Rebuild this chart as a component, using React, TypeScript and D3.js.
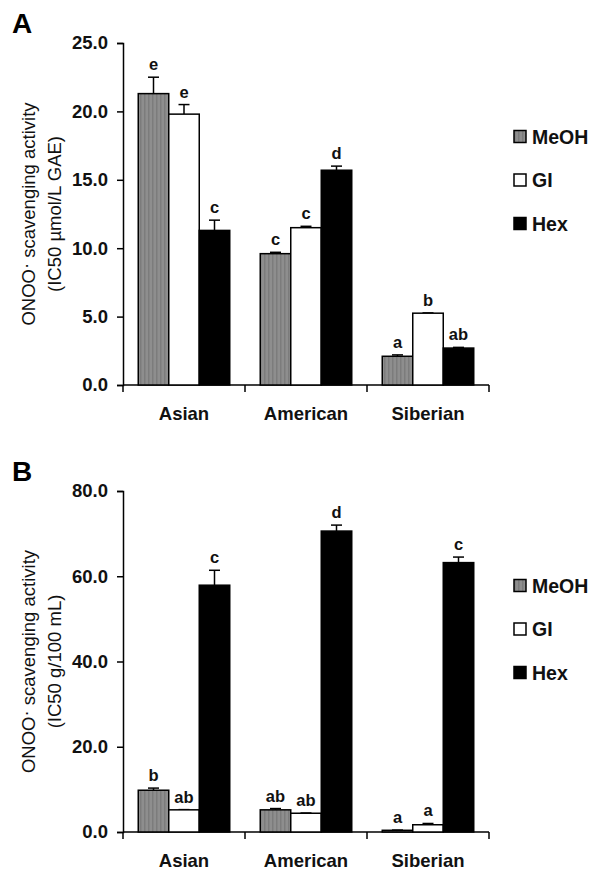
import { useEffect, useRef } from "react"
import * as d3 from "d3"

const categories = ["Asian", "American", "Siberian"]
const series = ["MeOH", "GI", "Hex"]

// panel A : IC50 umol/L GAE
const meohA = [21.3, 9.6, 2.1]
const glA = [19.8, 11.5, 5.25]
const hexA = [11.3, 15.7, 2.7]
const meohErrA = [1.2, 0.1, 0.1]
const glErrA = [0.7, 0.1, 0.02]
const hexErrA = [0.75, 0.3, 0.05]
const meohLetA = ["e", "c", "a"]
const glLetA = ["e", "c", "b"]
const hexLetA = ["c", "d", "ab"]
const ticksA = [0, 5, 10, 15, 20, 25]

// panel B : IC50 g/100 mL
const meohB = [9.8, 5.2, 0.4]
const glB = [5.2, 4.4, 1.7]
const hexB = [57.9, 70.6, 63.2]
const meohErrB = [0.5, 0.3, 0.05]
const glErrB = [0.05, 0.05, 0.3]
const hexErrB = [3.5, 1.4, 1.3]
const meohLetB = ["b", "ab", "a"]
const glLetB = ["ab", "ab", "a"]
const hexLetB = ["c", "d", "c"]
const ticksB = [0, 20, 40, 60, 80]

const FONT = "'Liberation Sans', Arial, sans-serif"
const fills = { MeOH: "url(#stripes)", GI: "#ffffff", Hex: "#000000" }

const drawPanel = (svg, opts) => {
    const { top, bottom, max, ticks, vals, errs, lets, label, unit, legendTop } = opts
    const left = 123, right = 489

    const y = d3.scaleLinear().domain([0, max]).range([bottom, top])
    const x = d3.scaleBand().domain(categories).range([left, right])
    const xi = d3.scaleBand().domain(series).range([0, x.bandwidth()]).paddingOuter(0.5)

    const g = svg.append("g").attr("font-family", FONT)

    // panel letter
    g.append("text").attr("x", 12).attr("y", top - 10)
        .attr("font-size", 28).attr("font-weight", "bold").text(label)

    // y axis
    const yAxis = g.append("g").attr("transform", `translate(${left},0)`)
        .call(d3.axisLeft(y).tickValues(ticks).tickSize(6).tickPadding(9).tickFormat(d3.format(".1f")))
    yAxis.select(".domain").attr("stroke-width", 1.5)
    yAxis.selectAll(".tick line").attr("stroke-width", 1.5)
    yAxis.selectAll(".tick text").attr("font-size", 18.5).attr("font-weight", "bold")
        .attr("font-family", FONT).attr("fill", "#111")

    // x axis with ticks at category boundaries
    g.append("line").attr("x1", left).attr("x2", right).attr("y1", bottom).attr("y2", bottom)
        .attr("stroke", "#000").attr("stroke-width", 1.5)
    const edges = categories.map(c => x(c)).concat([right])
    g.selectAll(".xt").data(edges).join("line")
        .attr("x1", d => d).attr("x2", d => d).attr("y1", bottom).attr("y2", bottom + 7)
        .attr("stroke", "#000").attr("stroke-width", 1.5)
    g.selectAll(".xl").data(categories).join("text")
        .attr("x", d => x(d) + x.bandwidth() / 2).attr("y", bottom + 35)
        .attr("text-anchor", "middle").attr("font-size", 18.5).attr("font-weight", "bold")
        .attr("fill", "#111").text(d => d)

    // y label
    const yl = g.append("text").attr("text-anchor", "middle").attr("font-size", 18.5).attr("fill", "#111")
        .attr("transform", `translate(35,${(top + bottom) / 2}) rotate(-90)`)
    yl.append("tspan").text("ONOO")
    yl.append("tspan").attr("dy", -3).text("·")
    yl.append("tspan").attr("dy", 3).text(" scavenging activity")
    g.append("text").attr("text-anchor", "middle").attr("font-size", 18.5).attr("fill", "#111")
        .attr("transform", `translate(61,${(top + bottom) / 2}) rotate(-90)`)
        .text(unit)

    // bars
    const rows = []
    categories.forEach((c, ci) => {
        series.forEach((s, si) => {
            rows.push({ c, s, v: vals[si][ci], e: errs[si][ci], l: lets[si][ci] })
        })
    })
    const bx = d => x(d.c) + xi(d.s)
    const bw = xi.bandwidth()

    g.selectAll(".err").data(rows).join("g").each(function (d) {
        const eg = d3.select(this)
        const cx = bx(d) + bw / 2
        eg.append("line").attr("x1", cx).attr("x2", cx).attr("y1", y(d.v)).attr("y2", y(d.v + d.e))
            .attr("stroke", "#000").attr("stroke-width", 1.5)
        eg.append("line").attr("x1", cx - 5.5).attr("x2", cx + 5.5).attr("y1", y(d.v + d.e)).attr("y2", y(d.v + d.e))
            .attr("stroke", "#000").attr("stroke-width", 1.5)
    })

    g.selectAll(".bar").data(rows).join("rect")
        .attr("x", bx).attr("width", bw)
        .attr("y", d => y(d.v)).attr("height", d => y(0) - y(d.v))
        .attr("fill", d => fills[d.s]).attr("stroke", "#000").attr("stroke-width", 1.5)

    g.selectAll(".let").data(rows).join("text")
        .attr("x", d => bx(d) + bw / 2).attr("y", d => y(d.v + d.e) - 7)
        .attr("text-anchor", "middle").attr("font-size", 16.5).attr("font-weight", "bold")
        .attr("fill", "#111").text(d => d.l)

    // legend
    const lg = g.append("g").attr("transform", `translate(514,${legendTop})`)
    series.forEach((s, i) => {
        lg.append("rect").attr("x", 0).attr("y", i * 43.5 - 6).attr("width", 12).attr("height", 12)
            .attr("fill", fills[s]).attr("stroke", "#000").attr("stroke-width", 1.5)
        lg.append("text").attr("x", 18).attr("y", i * 43.5 + 7).attr("font-size", 19.5)
            .attr("font-weight", "bold").attr("fill", "#111").text(s)
    })
}

const App = () => {
    const ref = useRef()

    useEffect(() => {
        const svg = d3.select(ref.current)
        svg.selectAll("*").remove()

        const defs = svg.append("defs")
        const pat = defs.append("pattern").attr("id", "stripes").attr("patternUnits", "userSpaceOnUse")
            .attr("width", 4).attr("height", 4)
        pat.append("rect").attr("width", 4).attr("height", 4).attr("fill", "#8e8e8e")
        pat.append("rect").attr("width", 1.5).attr("height", 4).attr("fill", "#7c7c7c")

        drawPanel(svg, {
            top: 43, bottom: 385, max: 25, ticks: ticksA,
            vals: [meohA, glA, hexA], errs: [meohErrA, glErrA, hexErrA], lets: [meohLetA, glLetA, hexLetA],
            label: "A", unit: "(IC50 µmol/L GAE)", legendTop: 136.5
        })
        drawPanel(svg, {
            top: 491, bottom: 832, max: 80, ticks: ticksB,
            vals: [meohB, glB, hexB], errs: [meohErrB, glErrB, hexErrB], lets: [meohLetB, glLetB, hexLetB],
            label: "B", unit: "(IC50 g/100 mL)", legendTop: 585.5
        })
    }, [])

    return (
        <svg ref={ref} width={592} height={872}
            style={{ position: "absolute", left: 0, top: 0, background: "#fff" }} />
    )
}

export default App
